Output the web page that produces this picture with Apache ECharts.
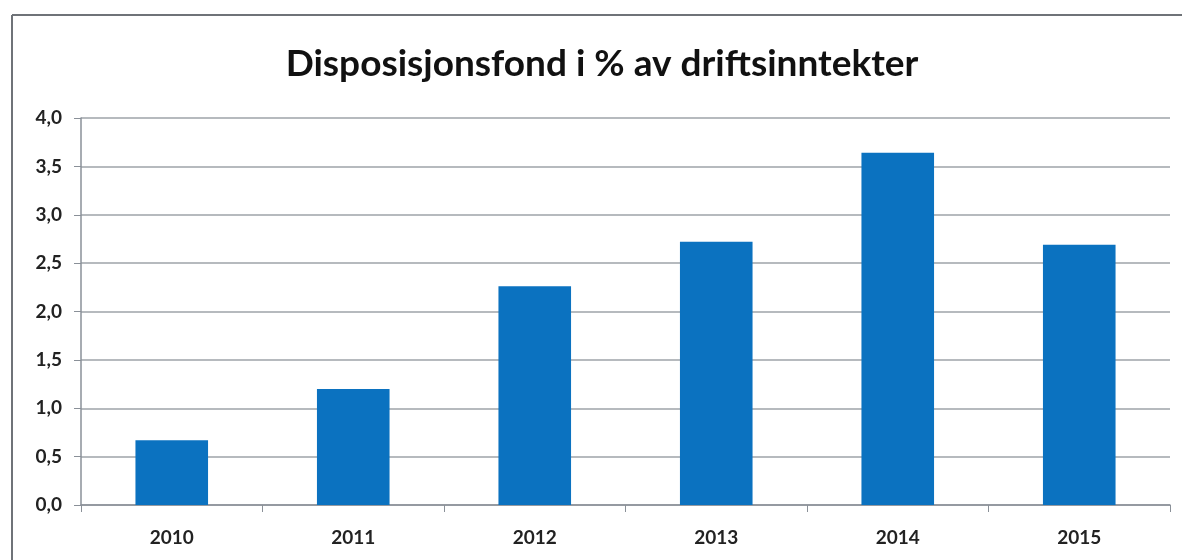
<!DOCTYPE html>
<html>
<head>
<meta charset="utf-8">
<script src="https://cdn.jsdelivr.net/npm/echarts@6/dist/echarts.min.js"></script>
<style>
  html, body { margin: 0; padding: 0; background: #fff; }
  #chart { width: 1182px; height: 560px; }
</style>
</head>
<body>
<div id="chart"></div>
<script>
const years = ['2010', '2011', '2012', '2013', '2014', '2015']
const values = [0.67, 1.20, 2.26, 2.72, 3.64, 2.69]
const title = 'Disposisjonsfond i % av driftsinntekter'

const chart = echarts.init(document.getElementById('chart'))

chart.setOption({
  animation: false,
  backgroundColor: '#fff',
  title: {
    text: title,
    left: 597,
    top: 41,
    textAlign: 'center',
    textStyle: { fontFamily: 'Lato', fontWeight: 'bold', fontSize: 37, color: '#111' }
  },
  graphic: [
    { type: 'line', shape: { x1: 12, y1: 15, x2: 1182, y2: 15 }, style: { stroke: '#6f7378', lineWidth: 2 } },
    { type: 'line', shape: { x1: 12, y1: 15, x2: 12, y2: 560 }, style: { stroke: '#6f7378', lineWidth: 2 } }
  ],
  grid: { left: 81, right: 12, top: 118, bottom: 55 },
  xAxis: {
    type: 'category',
    data: years,
    axisLine: { lineStyle: { color: '#8a9098', width: 1.5 } },
    axisTick: { show: true, length: 7, lineStyle: { color: '#8a9098' } },
    axisLabel: { margin: 23, fontFamily: 'Lato', fontWeight: 'bold', fontSize: 19, color: '#222' }
  },
  yAxis: {
    type: 'value',
    min: 0,
    max: 4,
    interval: 0.5,
    axisLine: { show: true, lineStyle: { color: '#8a9098', width: 1.5 } },
    axisTick: { show: true, length: 7, lineStyle: { color: '#8a9098' } },
    splitLine: { lineStyle: { color: '#9ea3a9', width: 1.5 } },
    axisLabel: {
      margin: 19,
      fontFamily: 'Lato', fontWeight: 'bold', fontSize: 19, color: '#222',
      formatter: v => v.toFixed(1).replace('.', ',')
    }
  },
  series: [{
    type: 'bar',
    data: values,
    barWidth: '40%',
    itemStyle: { color: '#0b72c0' }
  }]
})
</script>
</body>
</html>
